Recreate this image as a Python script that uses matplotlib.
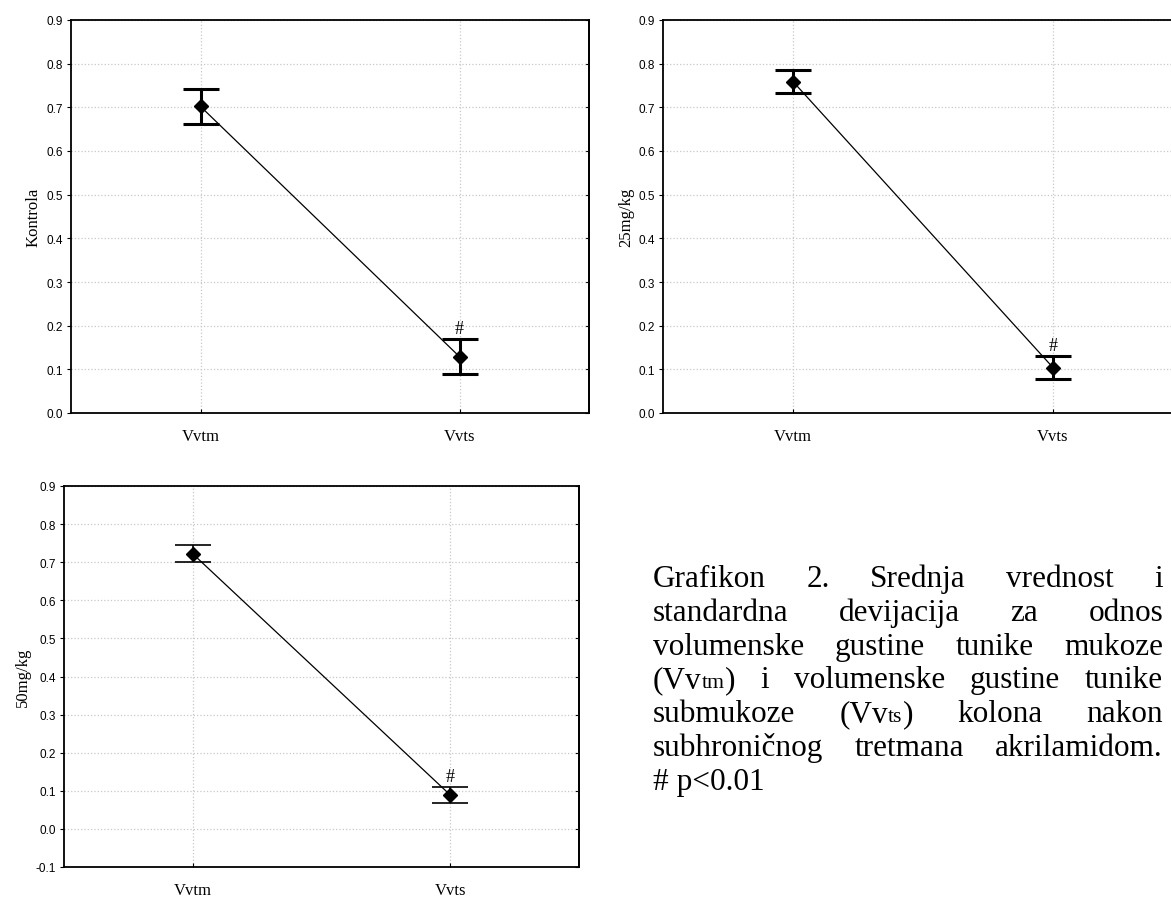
import numpy as np
import matplotlib
matplotlib.use("Agg")
import matplotlib.pyplot as plt

# podaci ocitani sa grafikona
kategorije = ["Vvtm", "Vvts"]
grupe = ["Kontrola", "25mg/kg", "50mg/kg"]
sredina_kontrola = [0.702, 0.129]
sd_kontrola = [0.040, 0.040]
sredina_25 = [0.759, 0.104]
sd_25 = [0.026, 0.026]
sredina_50 = [0.722, 0.089]
sd_50 = [0.022, 0.022]

W, H = 1171, 904
fig = plt.figure(figsize=(W / 100, H / 100), dpi=100)

def px_box(x0, y0, x1, y1):
    return [x0 / W, 1 - y1 / H, (x1 - x0) / W, (y1 - y0) / H]

ax1 = fig.add_axes(px_box(71, 21, 589, 414))
ax2 = fig.add_axes(px_box(663, 21, 1183, 414))
ax3 = fig.add_axes(px_box(64, 487, 579, 868))

def crtaj(ax, sredina, sd, naziv, ymin, capw, lw):
    x = np.arange(len(kategorije))
    ax.plot(x, sredina, color="black", lw=0.9, zorder=3)
    ax.errorbar(x, sredina, yerr=sd, fmt="none", ecolor="black",
                elinewidth=lw, capsize=capw, capthick=lw, zorder=4)
    ax.plot(x, sredina, "D", color="black", ms=7.5, zorder=5)
    # oznaka znacajnosti iznad Vvts
    ax.text(x[1], sredina[1] + sd[1] + 0.004, "#", ha="center", va="bottom",
            fontsize=13, family="Liberation Serif")
    ax.set_xlim(-0.5, 1.5)
    ax.set_ylim(ymin, 0.9)
    yt = np.round(np.arange(ymin, 0.91, 0.1), 1)
    ax.set_yticks(yt)
    ax.yaxis.set_major_formatter(matplotlib.ticker.FormatStrFormatter("%.1f"))
    ax.set_xticks(x)
    ax.set_xticklabels(kategorije, fontsize=12, family="Liberation Serif")
    for t in ax.get_yticklabels():
        t.set_fontsize(8.5)
        t.set_family("Liberation Sans")
    ax.tick_params(axis="y", direction="out", length=3, width=0.8, pad=3)
    ax.tick_params(axis="x", direction="in", length=3, width=0.8, pad=11)
    # crtice sa desne strane, prema unutra
    desna = ax.secondary_yaxis("right")
    desna.set_yticks(yt)
    desna.tick_params(direction="in", length=3, width=0.8, labelright=False)
    desna.spines["right"].set_linewidth(1.3)
    ax.grid(True, color="#c8c8c8", linestyle=":", lw=0.9)
    ax.set_axisbelow(True)
    for s in ax.spines.values():
        s.set_linewidth(1.3)
    ax.set_ylabel(naziv, fontsize=12, family="Liberation Serif", labelpad=3)

crtaj(ax1, sredina_kontrola, sd_kontrola, grupe[0], 0.0, 13, 2.2)
crtaj(ax2, sredina_25, sd_25, grupe[1], 0.0, 13, 2.2)
crtaj(ax3, sredina_50, sd_50, grupe[2], -0.1, 13, 1.2)

# tekst opisa, obostrano poravnat
redovi = [
    [[("Grafikon", 1)], [("2.", 1)], [("Srednja", 1)], [("vrednost", 1)], [("i", 1)]],
    [[("standardna", 1)], [("devijacija", 1)], [("za", 1)], [("odnos", 1)]],
    [[("volumenske", 1)], [("gustine", 1)], [("tunike", 1)], [("mukoze", 1)]],
    [[("(Vv", 1), ("tm", 0.7), (")", 1)], [("i", 1)], [("volumenske", 1)],
     [("gustine", 1)], [("tunike", 1)]],
    [[("submukoze", 1)], [("(Vv", 1), ("ts", 0.7), (")", 1)], [("kolona", 1)],
     [("nakon", 1)]],
    [[("subhroničnog", 1)], [("tretmana", 1)], [("akrilamidom.", 1)]],
    [[("# p<0.01", 1)]],
]
x_lijevo, x_desno = 653, 1163
y_prvi, razmak = 587, 33.8
vel = 22.5

r = fig.canvas.get_renderer()

def sirina(t, s):
    tt = fig.text(0, 0, t, fontsize=s, family="Liberation Serif")
    w = tt.get_window_extent(renderer=r).width
    tt.remove()
    return w

for i, red in enumerate(redovi):
    y = 1 - (y_prvi + i * razmak) / H
    sir = [sum(sirina(t, vel * k) for t, k in rijec) for rijec in red]
    if len(red) > 1:
        praz = (x_desno - x_lijevo - sum(sir)) / (len(red) - 1)
    else:
        praz = 0
    x = x_lijevo
    for rijec, w in zip(red, sir):
        xx = x
        for t, k in rijec:
            fig.text(xx / W, y, t, fontsize=vel * k, family="Liberation Serif",
                     va="baseline", ha="left")
            xx += sirina(t, vel * k)
        x += w + praz

fig.savefig("out.png", dpi=100)
